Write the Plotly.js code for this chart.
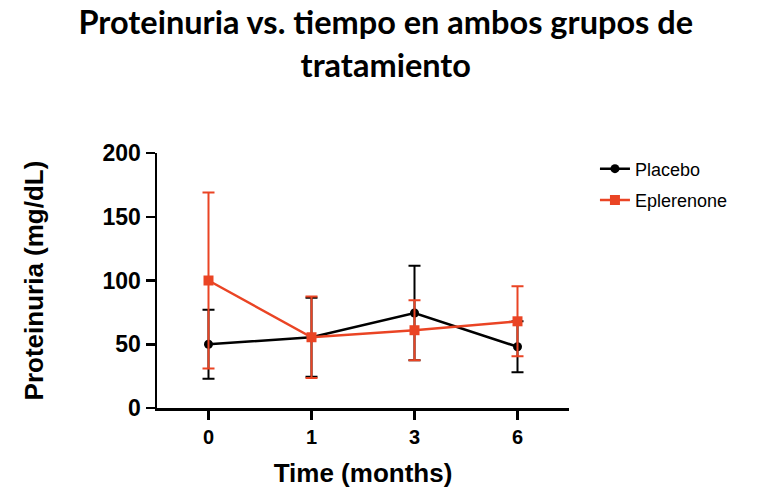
<!DOCTYPE html>
<html>
<head>
<meta charset="utf-8">
<script src="https://cdn.plot.ly/plotly-3.0.1.min.js"></script>
<style>html,body{margin:0;padding:0;background:#fff;}#chart{width:767px;height:491px;}</style>
</head>
<body>
<div id="chart"></div>
<script>
const months = ['0', '1', '3', '6'];
const placeboMean = [50, 55.5, 74.5, 48];
const placeboErr = [27, 31, 37, 20];
const eplerenoneMean = [100, 55.5, 61, 68];
const eplerenoneErr = [69, 32, 23.5, 27.5];

const black = '#000000';
const red = '#ea4424';

const traces = [
  {
    x: months, y: placeboMean, name: 'Placebo', type: 'scatter', mode: 'lines+markers',
    legendgroup: 'a',
    line: {color: black, width: 2.5},
    marker: {color: black, symbol: 'circle', size: 9},
    error_y: {type: 'data', array: placeboErr, visible: true, color: black, thickness: 2, width: 6}
  },
  {
    x: months, y: eplerenoneMean, name: 'Eplerenone', type: 'scatter', mode: 'lines+markers',
    legendgroup: 'b',
    line: {color: red, width: 2.5},
    marker: {color: red, symbol: 'square', size: 10},
    error_y: {type: 'data', array: eplerenoneErr, visible: true, color: red, thickness: 2, width: 6}
  }
];

const layout = {
  width: 767, height: 491,
  paper_bgcolor: '#fff', plot_bgcolor: '#fff',
  margin: {l: 157, r: 198, t: 153, b: 83},
  title: {
    text: 'Proteinuria vs. tiempo en ambos grupos de<br>tratamiento',
    font: {family: 'Lato, sans-serif', size: 32.5, color: '#000', weight: 700},
    x: 0.503, xanchor: 'center', xref: 'container', y: 0.93, yanchor: 'middle'
  },
  xaxis: {
    type: 'category', range: [-0.5, 3.5],
    showline: true, linecolor: '#000', linewidth: 2.5,
    ticks: 'outside', ticklen: 9, tickwidth: 2.5, tickcolor: '#000',
    showgrid: false, zeroline: false,
    tickfont: {family: 'Liberation Sans, Arial, sans-serif', size: 20, color: '#000', weight: 700},
    title: {text: 'Time (months)', standoff: 18,
      font: {family: 'Liberation Sans, Arial, sans-serif', size: 26, color: '#000', weight: 700}}
  },
  yaxis: {
    range: [0, 200], tickvals: [0, 50, 100, 150, 200],
    showline: true, linecolor: '#000', linewidth: 2.5,
    ticks: 'outside', ticklen: 9, tickwidth: 2.5, tickcolor: '#000',
    showgrid: false, zeroline: false,
    tickfont: {family: 'Liberation Sans, Arial, sans-serif', size: 23, color: '#000', weight: 700},
    title: {text: 'Proteinuria (mg/dL)', standoff: 52,
      font: {family: 'Liberation Sans, Arial, sans-serif', size: 26, color: '#000', weight: 700}}
  },
  showlegend: true,
  legend: {
    x: 1.063, xanchor: 'left', y: 1.01, yanchor: 'top',
    font: {family: 'Liberation Sans, Arial, sans-serif', size: 18, color: '#000'},
    tracegroupgap: 5, bgcolor: 'rgba(0,0,0,0)'
  }
};

Plotly.newPlot('chart', traces, layout, {displayModeBar: false, staticPlot: true});
</script>
</body>
</html>
